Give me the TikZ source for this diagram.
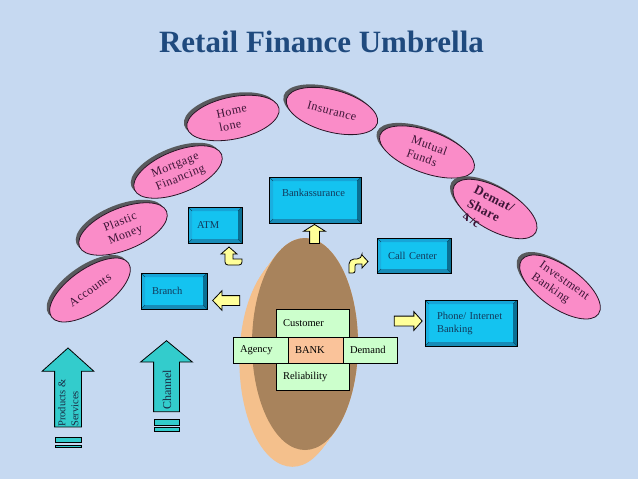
\documentclass[tikz,border=0pt]{standalone}
\usepackage{fontspec}
\setmainfont{Liberation Serif}
\usetikzlibrary{shapes.geometric,shapes.arrows,shadows}
\definecolor{bgblue}{HTML}{C6D9F1}
\definecolor{titleblue}{HTML}{1F4A7E}
\definecolor{petalpink}{HTML}{FA8CC8}
\definecolor{petalline}{HTML}{2A1426}
\definecolor{petaltext}{HTML}{3C1436}
\definecolor{shadowgray}{HTML}{4D4D4D}
\definecolor{boxface}{HTML}{14C3F0}
\definecolor{boxtext}{HTML}{123A5C}
\definecolor{bevtop}{HTML}{17A5D8}
\definecolor{bevleft}{HTML}{1AAFE0}
\definecolor{bevright}{HTML}{0B6F93}
\definecolor{bevbot}{HTML}{178CB8}
\definecolor{cellgreen}{HTML}{CCFFCC}
\definecolor{bankpeach}{HTML}{FAC39A}
\definecolor{arrowyellow}{HTML}{FFFF99}
\definecolor{arrowteal}{HTML}{33CCCC}
\definecolor{discface}{HTML}{A8835C}
\definecolor{discside}{HTML}{F4C08C}
\definecolor{arrowtext}{HTML}{1A2B44}

\begin{document}
\begin{tikzpicture}[x=1pt,y=-1pt,
    % styles for clarity
    petal/.style  ={ellipse, draw=petalline, line width=0.8pt, fill=petalpink,
                    minimum width=94, minimum height=42, inner sep=0, align=center,
                    text=petaltext, font=\fontsize{12}{14}\selectfont\addfontfeatures{LetterSpace=4},
                    drop shadow={shadow xshift=-3pt, shadow yshift=3pt, fill=shadowgray, opacity=0.9}},
    bevel/.style  ={draw, line width=0.8pt, fill=boxface, inner sep=0, align=left,
                    text=boxtext, font=\fontsize{10.5}{13}\selectfont,
                    path picture={
                      \coordinate (bnw) at (path picture bounding box.north west);
                      \coordinate (bse) at (path picture bounding box.south east);
                      \coordinate (bne) at (bnw -| bse);
                      \coordinate (bsw) at (bnw |- bse);
                      \coordinate (inw) at ([shift={(4,4)}]bnw);
                      \coordinate (ine) at ([shift={(-4,4)}]bne);
                      \coordinate (ise) at ([shift={(-4,-4)}]bse);
                      \coordinate (isw) at ([shift={(4,-4)}]bsw);
                      \fill[bevtop] (bnw) -- (bne) -- (ine) -- (inw) -- cycle;
                      \fill[bevright] (bne) -- (bse) -- (ise) -- (ine) -- cycle;
                      \fill[bevbot] (bse) -- (bsw) -- (isw) -- (ise) -- cycle;
                      \fill[bevleft] (bsw) -- (bnw) -- (inw) -- (isw) -- cycle;
                      \draw[line width=0.5pt, bevright!70!black]
                        (bnw) -- (inw) (bne) -- (ine) (bse) -- (ise) (bsw) -- (isw);
                    }},
    cell/.style   ={draw, line width=0.8pt, fill=cellgreen, inner ysep=0, inner xsep=7,
                    align=left, font=\fontsize{10.5}{12}\selectfont},
    yarrow/.style ={single arrow, draw, line width=0.8pt, fill=arrowyellow, inner xsep=0,
                    inner ysep=4.5, single arrow head indent=0},
    tarrow/.style ={single arrow, draw, line width=0.8pt, fill=arrowteal, inner xsep=0,
                    single arrow head indent=0, rotate=90},
    stripe/.style ={draw, line width=0.8pt, fill=arrowteal}
  ]
    % background
    \fill[bgblue] (0,0) rectangle (638,479);
    \useasboundingbox (0,0) rectangle (638,479);

    \node[font=\fontsize{31}{36}\selectfont\bfseries, text=titleblue] (title) at (321.5,41.5)
      {Retail Finance Umbrella};

    % the umbrella
    \node[petal, rotate=35] (accounts) at (90,290) {Accounts};
    \node[petal, rotate=22] (plastic) at (123,229) {Plastic\\Money};
    \node[petal, rotate=22] (mortgage) at (178,172) {Mortgage\\Financing};
    \node[petal, rotate=12, align=left] (homelone) at (233,118) {Home\\lone};
    \node[petal, rotate=-15] (insurance) at (332,111) {Insurance};
    \node[petal, rotate=-20, align=left, minimum width=100] (mutual) at (427,152) {Mutual\\Funds};
    \node[petal, rotate=-30] (demat) at (495,209) {};
    \node[petal, rotate=-35, align=left] (invest) at (560,287) {Investment\\Banking};
    \begin{scope}
      \clip[rotate around={-30:(495,209)}] (495,209) ellipse [x radius=50, y radius=26];
      \node[rotate=-27, anchor=north west, inner sep=0, align=left, text=petaltext,
            font=\fontsize{13}{15}\selectfont\bfseries\addfontfeatures{LetterSpace=4}]
        (demattext) at (477,185) {Demat/\\Share\\A/c};
    \end{scope}

    % the bank disc
    \foreach \s in {0,1,...,14}
      \fill[discside] ({305-0.9*\s},{344+1.2*\s}) ellipse [x radius=53, y radius=106];
    \fill[discface] (305,344) ellipse [x radius=53, y radius=106];

    \node[cell, text width=59, minimum height=28] (customer) at (312.5,323) {Customer};
    \node[cell, text width=41, minimum height=26] (agency) at (260.5,350) {Agency};
    \node[cell, fill=bankpeach, text width=41, minimum height=26] (bank) at (315.5,350) {BANK};
    \node[cell, text width=40, minimum height=26] (demand) at (370,350) {Demand};
    \node[cell, text width=59, minimum height=27] (reliability) at (312.5,376.5) {Reliability};

    % channels
    \node[bevel, minimum width=54, minimum height=36, text width=36] (atm) at (215,225) {ATM};
    \node[bevel, minimum width=66, minimum height=36, text width=44] (branch) at (174,291) {Branch};
    \node[bevel, minimum width=92, minimum height=46, text width=66, text depth=14] (bankass) at (315,200) {Bankassurance};
    \node[bevel, minimum width=74, minimum height=35, text width=52] (callcenter) at (414,255.5) {Call Center};
    \node[bevel, minimum width=92, minimum height=46, text width=68] (phone) at (471,323) {Phone/ Internet\\Banking};

    \node[yarrow, rotate=180, minimum height=27, single arrow head extend=5,
          single arrow tip angle=93] (tobranch) at (228.5,300.5) {};
    \node[yarrow, rotate=90, minimum height=19, single arrow head extend=6,
          single arrow tip angle=116] (tobankass) at (314.5,235.5) {};
    \node[yarrow, minimum height=28, single arrow head extend=4.5,
          single arrow tip angle=97] (tophone) at (406,321) {};
    \filldraw[fill=arrowyellow, line width=0.8pt] (242,259) -- (233,259) -- (233,254) -- (237,254)
      -- (229,247) -- (221,254) -- (225,254) [rounded corners=3] -- (225,265) -- (242,265)
      [sharp corners] -- cycle;
    \filldraw[fill=arrowyellow, line width=0.8pt] (349,273) [rounded corners=5] -- (349,259)
      -- (362,259) [sharp corners] -- (362,255) -- (368,261.5) -- (362,268) -- (362,264)
      [rounded corners=2] -- (355,264) -- (355,273) [sharp corners] -- cycle;

    % products and channel arrows
    \node[tarrow, minimum height=79, inner ysep=13, single arrow head extend=12.5,
          single arrow tip angle=96] (prodarrow) at (68,393.5) {};
    \draw[stripe] (55,437) rectangle (81,442);
    \draw[stripe] (55,445) rectangle (81,447.5);
    \node[rotate=90, anchor=north west, inner sep=0, align=left, text=arrowtext,
          font=\fontsize{10.5}{13}\selectfont] (prodtext) at (58,427) {Products \&\\Services};

    \node[tarrow, minimum height=71, inner ysep=12.5, single arrow head extend=13,
          single arrow tip angle=101] (chanarrow) at (166.5,381.5) {};
    \draw[stripe] (154,419) rectangle (179,425);
    \draw[stripe] (154,427) rectangle (179,431);
    \node[rotate=90, text=arrowtext, font=\fontsize{12}{14}\selectfont] (chantext) at (167,390) {Channel};
  \end{tikzpicture}
\end{document}
